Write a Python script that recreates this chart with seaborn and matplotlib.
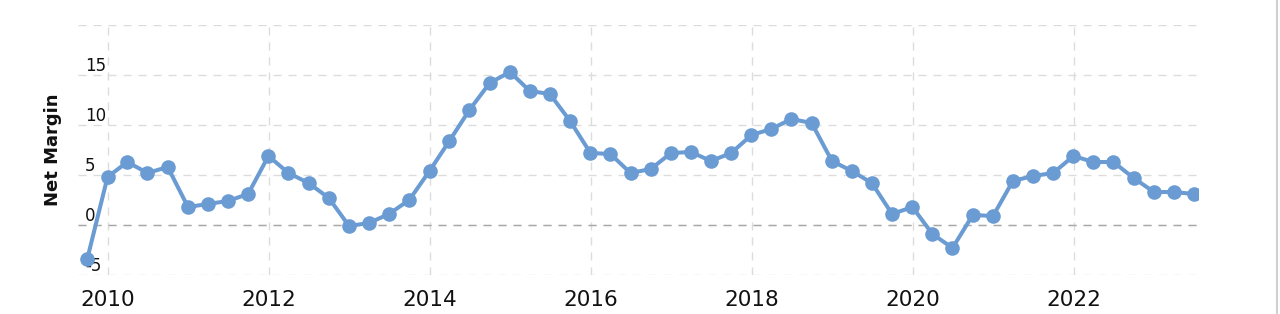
import matplotlib
matplotlib.use("Agg")
import matplotlib.pyplot as plt
import matplotlib.dates as mdates
from matplotlib.lines import Line2D
import pandas as pd
import seaborn as sns

# ---- data ----
first_quarter_end = "2009-09-30"
n_quarters = 56
net_margin = [
    -3.4, 4.8, 6.3, 5.2, 5.8, 1.8, 2.1, 2.4, 3.1, 6.9,
    5.2, 4.2, 2.7, -0.1, 0.2, 1.1, 2.5, 5.4, 8.4, 11.5,
    14.2, 15.3, 13.4, 13.1, 10.4, 7.2, 7.1, 5.2, 5.6, 7.2,
    7.3, 6.4, 7.2, 9.0, 9.6, 10.6, 10.2, 6.4, 5.4, 4.2,
    1.1, 1.8, -0.9, -2.3, 1.0, 0.9, 4.4, 4.9, 5.2, 6.9,
    6.3, 6.3, 4.7, 3.3, 3.3, 3.1,
]
y_ticks = [-5, 0, 5, 10, 15, 20]
y_tick_labels = ["-5", "0", "5", "10", "15", ""]
y_label = "Net Margin"

dates = pd.date_range(first_quarter_end, periods=n_quarters, freq="QE")
df = pd.DataFrame({"date": dates, "net_margin": net_margin})

# ---- style ----
sns.set_style("white")
plt.rcParams["font.family"] = ["DejaVu Sans"]
plt.rcParams["lines.scale_dashes"] = False

W, H = 1280, 314
fig = plt.figure(figsize=(W / 100, H / 100), dpi=100)
ax = fig.add_axes([78 / W, 1 - 275 / H, (1198 - 78) / W, (275 - 25) / H])

line_color = "#6a9bd3"
sns.lineplot(
    data=df, x="date", y="net_margin", ax=ax,
    color=line_color, linewidth=2.9, marker="o", markersize=10.5,
    markeredgewidth=0, zorder=5,
)

ax.set_ylim(-5, 20)
ax.set_xlim(pd.Timestamp("2009-08-19"), pd.Timestamp("2023-07-19"))

ax.set_yticks(y_ticks)
ax.set_yticklabels(y_tick_labels)
ax.xaxis.set_major_locator(mdates.YearLocator(2))
ax.xaxis.set_major_formatter(mdates.DateFormatter("%Y"))

dash = (0, (5.8, 5.0))
ax.grid(True, axis="both", color="#dcdcdc", linewidth=1.0, linestyle=dash)
ax.axhline(0, color="#a8a8a8", linewidth=1.0, linestyle=dash, zorder=1)
ax.set_axisbelow(True)

for s in ax.spines.values():
    s.set_visible(False)

ax.tick_params(axis="x", length=0, pad=11, labelsize=15.5, labelcolor="#111111")
ax.tick_params(axis="y", length=0, pad=-5, labelsize=12, labelcolor="#111111")
for lab in ax.get_yticklabels():
    lab.set_horizontalalignment("left")
    lab.set_verticalalignment("bottom")

ax.set_xlabel("")
ax.set_ylabel(y_label, fontsize=13, fontweight="bold", color="#111111", va="center")
ax.yaxis.set_label_coords(-25 / 1120, 0.5)

fig.add_artist(Line2D([1276.5 / W, 1276.5 / W], [0, 1], color="#d0d0d0", linewidth=1.5,
                      transform=fig.transFigure))

fig.savefig("out.png", dpi=100, facecolor="white")
